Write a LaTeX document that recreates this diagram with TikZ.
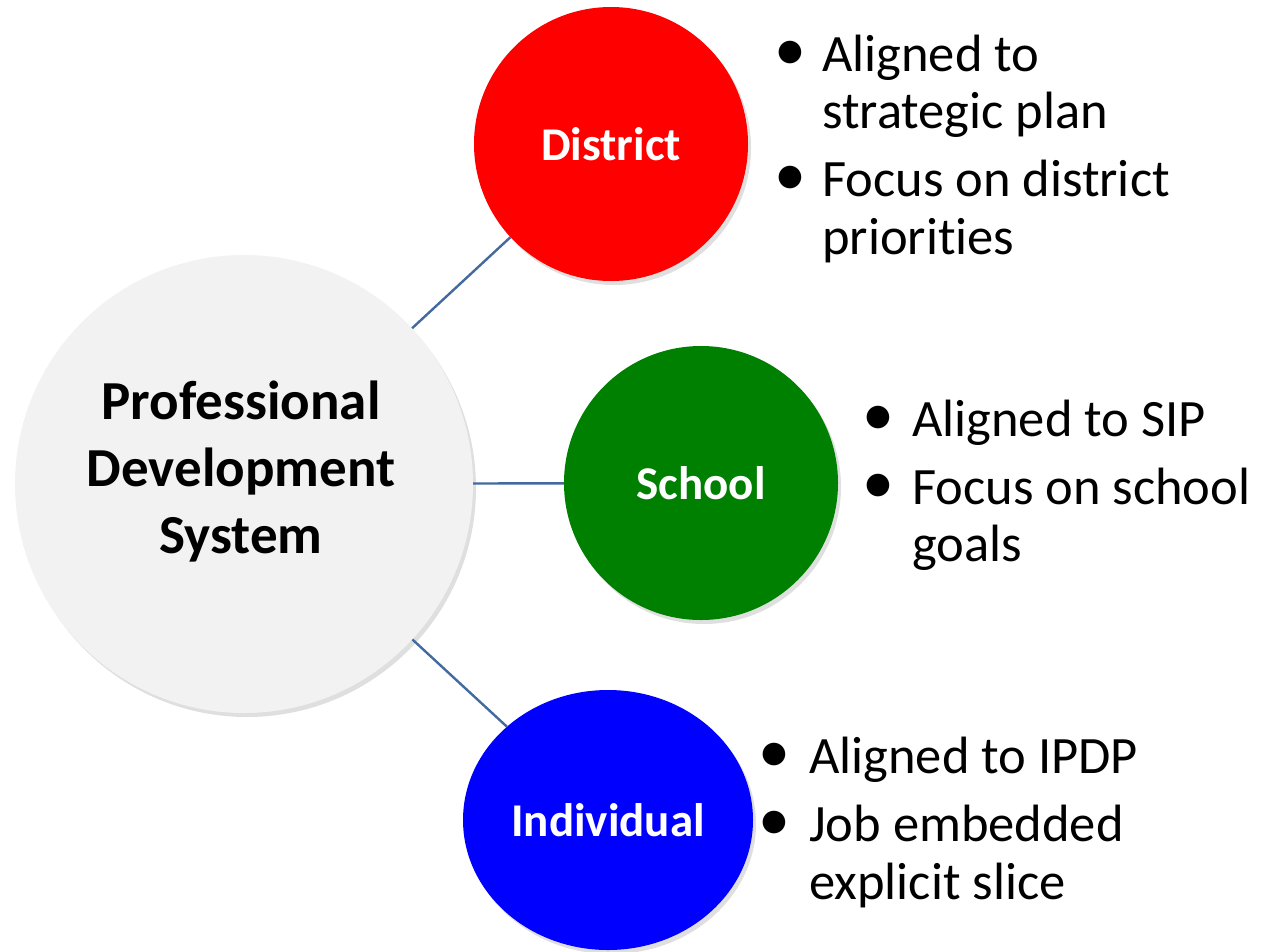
\documentclass[tikz,border=0pt]{standalone}
\usepackage{fontspec}
\setmainfont{Carlito}[Ligatures=NoCommon]
\usetikzlibrary{shapes.geometric,shadows}
\definecolor{linkblue}{RGB}{66,106,158}
\definecolor{pdsgray}{RGB}{242,242,242}
\definecolor{disred}{RGB}{255,0,0}
\definecolor{schgreen}{RGB}{0,128,0}
\definecolor{indblue}{RGB}{0,0,255}
\tikzset{
  bubble/.style={circle,inner sep=0pt,draw=none,
    drop shadow={shadow xshift=3pt,shadow yshift=-4pt,opacity=0.25,fill=gray}},
  bubblelabel/.style={text=white,font=\bfseries\fontsize{47}{50}\selectfont},
  link/.style={draw=linkblue,line width=2.4pt},
  bul/.style={anchor=center,inner sep=0pt,font=\fontsize{64}{64}\selectfont},
  item/.style={anchor=base west,inner sep=0pt,font=\fontsize{52.5}{57}\selectfont},
}
\begin{document}
\begin{tikzpicture}[x=1pt,y=-1pt]
\useasboundingbox (0,0) rectangle (1261,951);
% circles
\node[bubble,fill=pdsgray,minimum size=458pt] (pds) at (244,484) {};
\node[font=\bfseries\fontsize{55}{67}\selectfont,align=center] (pdslabel) at (241,472)
  {Professional\\Development\\System};
\node[bubble,fill=disred,minimum size=274pt] (district) at (611,144) {};
\node[bubblelabel] (districtlabel) at (district) {District};
\node[bubble,fill=schgreen,minimum size=274pt] (school) at (701,483) {};
\node[bubblelabel] (schoollabel) at (school) {School};
\node[bubble,ellipse,fill=indblue,minimum width=290pt,minimum height=260pt] (individual) at (608,820) {};
\node[bubblelabel] (individuallabel) at (individual) {Individual};
% connectors
\draw[link] (pds) -- (district);
\draw[link] (pds) -- (school);
\draw[link] (pds) -- (individual);
% district bullets
\node[bul] (db1) at (790,56) {•};
\node[item] (d1a) at (822,71) {Aligned to};
\node[item] (d1b) at (822,128) {strategic plan};
\node[bul] (db2) at (790,181) {•};
\node[item] (d2a) at (822,196) {Focus on district};
\node[item] (d2b) at (822,254) {priorities};
% school bullets
\node[bul] (sb1) at (878,421) {•};
\node[item] (s1a) at (912,436) {Aligned to SIP};
\node[bul] (sb2) at (878,489) {•};
\node[item] (s2a) at (912,504) {Focus on school};
\node[item] (s2b) at (912,561) {goals};
% individual bullets
\node[bul] (ib1) at (774,758) {•};
\node[item] (i1a) at (809,773) {Aligned to IPDP};
\node[bul] (ib2) at (774,826) {•};
\node[item] (i2a) at (809,841) {Job embedded};
\node[item] (i2b) at (809,899) {explicit slice};
\end{tikzpicture}
\end{document}
